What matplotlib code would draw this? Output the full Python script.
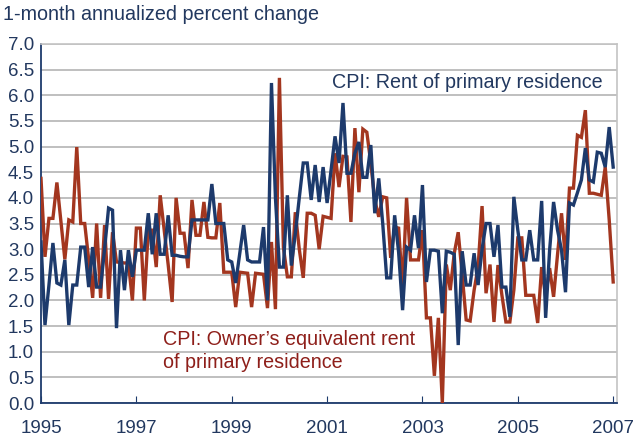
import numpy as np
import matplotlib
matplotlib.use("Agg")
import matplotlib.pyplot as plt

# monthly readings, Jan 1995 .. Jan 2007
rent = [3.14, 1.52, 2.3, 3.12, 2.34, 2.3, 2.79, 1.52, 2.3, 2.3, 3.04, 3.04,
        2.26, 3.04, 2.26, 2.26, 3.0, 3.8, 3.76, 1.46, 2.98, 2.2, 2.98, 2.46,
        2.98, 2.98, 2.98, 3.7, 2.9, 3.7, 2.9, 2.9, 3.66, 2.88, 2.88, 2.86,
        2.85, 2.85, 3.57, 3.57, 3.57, 3.57, 3.57, 4.27, 3.5, 3.5, 3.5, 2.79,
        2.75, 2.34, 2.9, 3.47, 2.79, 2.75, 2.75, 2.75, 3.43, 2.0, 6.24, 4.0,
        2.65, 2.65, 4.05, 2.68, 3.3, 4.0, 4.68, 4.68, 3.96, 4.64, 3.92, 4.6,
        3.9, 4.54, 5.2, 4.68, 5.85, 4.48, 4.48, 4.87, 5.09, 4.4, 4.4, 5.03,
        3.7, 4.38, 3.5, 2.44, 2.44, 3.66, 2.94, 1.81, 3.04, 2.98, 3.66, 3.02,
        4.25, 2.36, 2.98, 2.98, 2.96, 1.75, 2.96, 2.94, 2.9, 1.13, 2.96, 2.3,
        2.3, 2.92, 2.3, 3.0, 3.5, 3.5, 2.85, 3.47, 2.26, 2.26, 1.68, 4.02,
        3.37, 2.79, 2.79, 3.37, 2.79, 2.79, 3.94, 1.66, 2.98, 3.92, 3.37, 2.98,
        2.16, 3.9, 3.86, 4.1, 4.35, 4.97, 4.35, 4.31, 4.89, 4.87, 4.6, 5.38,
        4.6]

oer = [4.38, 2.85, 3.6, 3.6, 4.3, 3.55, 2.8, 3.57, 3.53, 4.99, 3.5, 3.5,
       2.8, 2.05, 3.5, 2.05, 3.47, 2.03, 3.33, 2.75, 2.74, 2.73, 2.73, 2.0,
       3.41, 3.41, 2.0, 3.37, 3.37, 2.65, 4.05, 3.37, 2.7, 1.97, 4.0, 3.31,
       3.31, 2.63, 3.96, 3.27, 3.27, 3.92, 3.23, 3.22, 3.22, 3.9, 2.55, 2.55,
       2.55, 1.87, 2.55, 2.54, 2.53, 1.87, 2.53, 2.52, 2.51, 1.85, 3.14, 1.83,
       6.34, 3.04, 2.46, 2.46, 3.72, 3.0, 2.44, 3.7, 3.7, 3.66, 3.0, 3.64,
       3.62, 3.6, 4.87, 4.21, 4.81, 4.8, 3.53, 5.36, 4.11, 5.34, 5.28, 4.68,
       3.96, 3.63, 4.02, 4.0, 2.83, 3.43, 3.41, 2.24, 4.0, 2.79, 2.79, 2.79,
       3.37, 1.66, 1.66, 0.53, 1.66, 0.0, 2.7, 2.2, 2.92, 3.33, 2.5, 1.62,
       1.6, 2.2, 2.65, 3.84, 2.14, 2.7, 1.58, 2.69, 2.1, 1.58, 1.58, 2.2,
       3.22, 3.22, 2.1, 2.1, 2.1, 1.56, 2.65, 2.07, 2.63, 2.07, 2.9, 3.7,
       2.79, 4.19, 4.19, 5.22, 5.18, 5.71, 4.09, 4.09, 4.07, 4.05, 4.6, 3.57,
       2.36]

year_ticks = [1995, 1997, 1999, 2001, 2003, 2005, 2007]
y_ticks = np.arange(0, 7.01, 0.5)

navy = '#1d3a6c'
rust = '#a3361f'
txt_blue = '#22385f'
txt_red = '#8e1f1a'

plt.rcParams['font.family'] = ['Liberation Sans', 'DejaVu Sans']

fig = plt.figure(figsize=(6.38, 4.38), dpi=100)
ax = fig.add_axes([41 / 638, 1 - 403 / 438, 576 / 638, 359 / 438])

t = 1995 + np.arange(len(rent)) / 12.0
ax.plot(t, oer, color=rust, lw=2.4, solid_joinstyle='miter', zorder=3)
ax.plot(t, rent, color=navy, lw=2.4, solid_joinstyle='miter', zorder=4)

ax.set_xlim(1995, 2007.08)
ax.set_ylim(0, 7)
ax.set_yticks(y_ticks)
ax.set_yticklabels([f'{v:.1f}' for v in y_ticks])
ax.set_xticks(year_ticks)
ax.set_xticklabels([str(y) for y in year_ticks])
ax.yaxis.grid(True, color='#b4b4b4', lw=1.2)
ax.set_axisbelow(True)

ax.tick_params(axis='y', length=0, labelsize=13.5, labelcolor=txt_blue, pad=5)
ax.tick_params(axis='x', direction='in', length=5, color=navy,
               labelsize=13.5, labelcolor=txt_blue, pad=12)

for side in ['left', 'bottom']:
    ax.spines[side].set_color(navy)
    ax.spines[side].set_linewidth(1.3)
for side in ['top', 'right']:
    ax.spines[side].set_color('#c4c4c4')
    ax.spines[side].set_linewidth(1.2)

fig.text(3 / 638, 1 - 15 / 438, '1-month annualized percent change',
         color=txt_blue, fontsize=14.2, va='center', ha='left')
ax.text(2001.1, 6.24, 'CPI: Rent of primary residence', color=txt_blue,
        fontsize=14.2, va='center', ha='left')
ax.text(1997.55, 1.23, 'CPI: Owner\u2019s equivalent rent', color=txt_red,
        fontsize=14.2, va='center', ha='left')
ax.text(1997.55, 0.78, 'of primary residence', color=txt_red,
        fontsize=14.2, va='center', ha='left')

fig.savefig('out.png', dpi=100)
